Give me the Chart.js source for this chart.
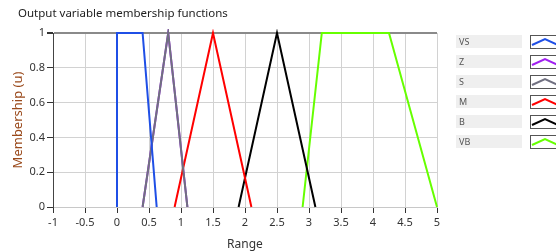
<!DOCTYPE html>
<html>
<head>
<meta charset="utf-8">
<script src="https://cdn.jsdelivr.net/npm/chart.js@4.4.0/dist/chart.umd.min.js"></script>
<style>
  html, body { margin: 0; padding: 0; background: #fff; }
  #wrap { width: 556px; height: 252px; position: relative; }
</style>
</head>
<body>
<div id="wrap"><canvas id="mfChart" width="556" height="252"></canvas></div>
<script>
// membership function names
const names = ['VS', 'Z', 'S', 'M', 'B', 'VB'];
// x / y corner points
const vsX = [0, 0, 0.4, 0.62];
const vsY = [0, 1, 1, 0];
const zX = [0.4, 0.8, 1.1];
const zY = [0, 1, 0];
const sX = [0.4, 0.8, 1.1];
const sY = [0, 1, 0];
const mX = [0.9, 1.5, 2.1];
const mY = [0, 1, 0];
const bX = [1.9, 2.5, 3.1];
const bY = [0, 1, 0];
const vbX = [2.9, 3.2, 4.25, 5];
const vbY = [0, 1, 1, 0];
// axis ticks
const xTicks = [-1, -0.5, 0, 0.5, 1, 1.5, 2, 2.5, 3, 3.5, 4, 4.5, 5];
const yTicks = [0, 0.2, 0.4, 0.6, 0.8, 1];

const colors = ['#1f4fe6', '#a020f0', '#707080', '#ff0000', '#000000', '#66ff00'];
const xs = [vsX, zX, sX, mX, bX, vbX];
const ys = [vsY, zY, sY, mY, bY, vbY];

function pts(xa, ya) {
  return xa.map(function (x, i) { return { x: x, y: ya[i] }; });
}

// right side legend + heading, drawn by hand like the original panel
const sidePanel = {
  id: 'sidePanel',
  afterDraw: function (chart) {
    const c = chart.ctx;
    c.save();
    c.font = '11.5px "Noto Sans", "Open Sans", sans-serif';
    c.fillStyle = '#222';
    c.textBaseline = 'middle';
    c.fillText('Output variable membership functions', 18, 14);

    for (let i = 0; i < names.length; i++) {
      const top = 35 + i * 20;
      c.fillStyle = '#efefef';
      c.fillRect(456, top, 66, 13);
      c.fillStyle = '#555';
      c.font = '9px "Noto Sans", sans-serif';
      c.textBaseline = 'middle';
      c.fillText(names[i], 459, top + 7);

      c.fillStyle = '#fff';
      c.fillRect(530, top, 30, 13);
      c.strokeStyle = '#555';
      c.lineWidth = 1;
      c.strokeRect(530.5, top + 0.5, 30, 13);
      c.strokeStyle = chart.data.datasets[i].borderColor;
      c.lineWidth = 2;
      c.beginPath();
      c.moveTo(532, top + 10);
      c.lineTo(545, top + 4);
      c.lineTo(558, top + 10);
      c.stroke();
    }
    c.restore();
  }
};

new Chart(document.getElementById('mfChart'), {
  type: 'scatter',
  data: {
    datasets: names.map(function (n, i) {
      return {
        label: n,
        data: pts(xs[i], ys[i]),
        showLine: true,
        borderColor: colors[i],
        backgroundColor: colors[i],
        borderWidth: 2,
        pointRadius: 0,
        tension: 0,
        clip: 4,
        order: i === 1 ? 10 : i  // Z sits under S
      };
    })
  },
  options: {
    responsive: false,
    animation: false,
    layout: { padding: { top: 33, right: 119, left: 0, bottom: 0 } },
    plugins: { legend: { display: false }, tooltip: { enabled: false } },
    scales: {
      x: {
        type: 'linear',
        min: -1,
        max: 5,
        afterBuildTicks: function (s) { s.ticks = xTicks.map(function (v) { return { value: v }; }); },
        afterFit: function (s) { s.height = 45; },
        ticks: {
          color: '#333',
          padding: 3,
          maxRotation: 0,
          autoSkip: false,
          callback: function (v) { return String(v); },
          font: { family: '"Noto Sans", sans-serif', size: 11 }
        },
        grid: { color: '#d2d2d2', tickColor: '#333', tickLength: 6 },
        border: { color: '#c8c8c8' },
        title: {
          display: true,
          text: 'Range',
          color: '#333',
          padding: { top: 0, bottom: 0 },
          font: { family: '"Noto Sans", sans-serif', size: 12 }
        }
      },
      y: {
        min: 0,
        max: 1,
        afterBuildTicks: function (s) { s.ticks = yTicks.map(function (v) { return { value: v }; }); },
        afterFit: function (s) { s.width = 53; },
        ticks: {
          color: '#333',
          padding: 2,
          callback: function (v) { return String(v); },
          font: { family: '"Noto Sans", sans-serif', size: 11 }
        },
        grid: {
          color: function (ctx) { return ctx.tick && ctx.tick.value === 1 ? '#8a8a8a' : '#d2d2d2'; },
          lineWidth: function (ctx) { return ctx.tick && ctx.tick.value === 1 ? 2 : 1; },
          tickColor: '#333',
          tickLength: 6
        },
        border: { color: '#444' },
        title: {
          display: true,
          text: 'Membership (u)',
          color: '#9a4a1c',
          padding: { top: 10, bottom: 0 },
          font: { family: '"Noto Sans", sans-serif', size: 13 }
        }
      }
    }
  },
  plugins: [sidePanel]
});
</script>
</body>
</html>
